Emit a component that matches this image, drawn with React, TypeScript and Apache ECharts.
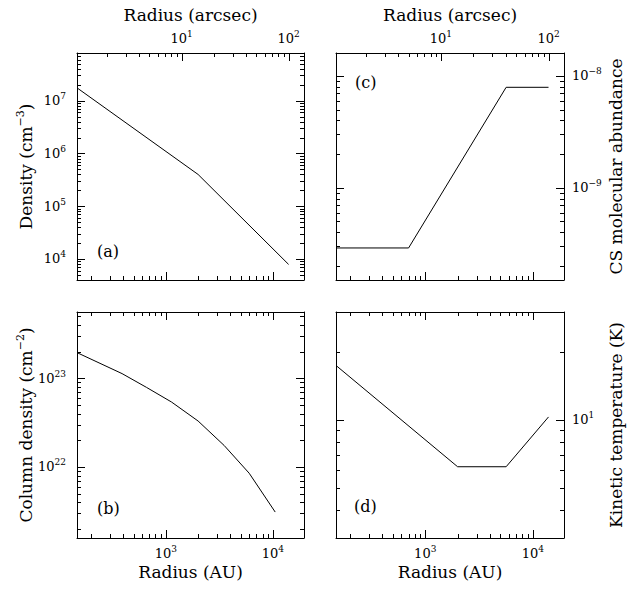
import React, { useEffect, useRef } from 'react';
import * as echarts from 'echarts';

// ---------- data ----------
const AU_MIN = 148;
const AU_MAX = 19500;
const DIST_PC = 140; // arcsec = AU / DIST_PC

// (a) density
const densityR = [148, 2000, 14000];
const densityN = [1.75e7, 4.0e5, 7.9e3];

// (b) column density
const columnR = [148, 390, 660, 1130, 2000, 3500, 6000, 10500];
const columnN = [1.95e23, 1.13e23, 7.9e22, 5.4e22, 3.3e22, 1.75e22, 8.5e21, 3.1e21];

// (c) CS molecular abundance
const csR = [148, 700, 5650, 14000];
const csX = [2.9e-10, 2.9e-10, 7.9e-9, 7.9e-9];

// (d) kinetic temperature
const tempR = [148, 2000, 5650, 14000];
const tempT = [17.4, 6.2, 6.2, 10.3];

const yRangeA = [4e3, 8e7];
const yRangeB = [1.58e21, 5.6e23];
const yRangeC = [1.5e-10, 1.6e-8];
const yRangeD = [3, 30];

const panelLabels = ['(a)', '(b)', '(c)', '(d)'];
const yTitles = [
  '{n|Density (cm}{s|\u22123}{n|)}',
  '{n|Column density (cm}{s|\u22122}{n|)}',
  '{n|CS molecular abundance}',
  '{n|Kinetic temperature (K)}',
];
const topTitle = 'Radius (arcsec)';
const bottomTitle = 'Radius (AU)';

// ---------- helpers ----------
const FONT = 'DejaVu Serif';
const BLACK = '#000';
const MAJOR_LEN = 8;
const MINOR_LEN = 4;

// log tick values inside (min, max): [value, isMajor]
function logTicks(min: number, max: number): [number, boolean][] {
  const out: [number, boolean][] = [];
  const e0 = Math.floor(Math.log10(min));
  const e1 = Math.ceil(Math.log10(max));
  for (let e = e0; e <= e1; e++) {
    for (let k = 1; k <= 9; k++) {
      const v = k * Math.pow(10, e);
      if (v > min * 1.0001 && v < max * 0.9999) out.push([v, k === 1]);
    }
  }
  return out;
}

function labelFmt(v: number): string {
  const l = Math.log10(v);
  const e = Math.round(l);
  if (Math.abs(l - e) > 1e-6) return '';
  const es = e < 0 ? '\u2212' + -e : String(e);
  return `{b|10}{e|${es}}`;
}

function labelRich() {
  return {
    b: { fontFamily: FONT, fontSize: 13, color: BLACK, lineHeight: 18 },
    e: { fontFamily: FONT, fontSize: 9, color: BLACK, lineHeight: 10, verticalAlign: 'top' },
  };
}

function titleRich() {
  return {
    n: { fontFamily: FONT, fontSize: 17, fill: BLACK, lineHeight: 22 },
    s: { fontFamily: FONT, fontSize: 11, fill: BLACK, lineHeight: 12, verticalAlign: 'top' },
  };
}

function majorAxis(opts: any) {
  return {
    type: 'log',
    logBase: 10,
    splitLine: { show: false },
    axisLine: { show: true, onZero: false, lineStyle: { color: BLACK, width: 1 } },
    axisTick: { show: false },
    axisLabel: { show: false },
    ...opts,
  };
}

function shownLabel(margin: number) {
  return { show: true, formatter: labelFmt, rich: labelRich(), margin };
}

export default function App() {
  const ref = useRef<HTMLDivElement>(null);

  useEffect(() => {
    if (!ref.current) return;
    const chart = echarts.init(ref.current, null, { renderer: 'svg' });

    const grids = [
      { left: 77, top: 53, width: 227, height: 227 },
      { left: 77, top: 312, width: 227, height: 226 },
      { left: 336, top: 53, width: 228, height: 227 },
      { left: 336, top: 312, width: 228, height: 226 },
    ];
    const yRanges = [yRangeA, yRangeB, yRangeC, yRangeD];
    const seriesData = [
      densityR.map((r, i) => [r, densityN[i]]),
      columnR.map((r, i) => [r, columnN[i]]),
      csR.map((r, i) => [r, csX[i]]),
      tempR.map((r, i) => [r, tempT[i]]),
    ];

    const xAxis: any[] = [];
    const yAxis: any[] = [];
    const series: any[] = [];

    grids.forEach((g, gi) => {
      const isTop = gi === 0 || gi === 2;
      const isLeft = gi === 0 || gi === 1;
      const xi = xAxis.length;
      const yi = yAxis.length;
      const [ymin, ymax] = yRanges[gi];

      xAxis.push(
        majorAxis({
          gridIndex: gi,
          position: 'bottom',
          min: AU_MIN,
          max: AU_MAX,
          axisLabel: isTop ? { show: false } : shownLabel(6),
        })
      );
      if (isTop) {
        xAxis.push(
          majorAxis({
            gridIndex: gi,
            position: 'top',
            min: AU_MIN / DIST_PC,
            max: AU_MAX / DIST_PC,
            axisLabel: shownLabel(6),
          })
        );
      } else {
        xAxis.push(majorAxis({ gridIndex: gi, position: 'top', min: AU_MIN, max: AU_MAX }));
      }

      const side = isLeft ? 'left' : 'right';
      const other = isLeft ? 'right' : 'left';
      yAxis.push(
        majorAxis({
          gridIndex: gi,
          position: side,
          min: ymin,
          max: ymax,
          axisLabel: shownLabel(isLeft ? 11 : 8),
        })
      );
      yAxis.push(majorAxis({ gridIndex: gi, position: other, min: ymin, max: ymax }));

      series.push({
        type: 'line',
        xAxisIndex: xi,
        yAxisIndex: yi,
        data: seriesData[gi],
        showSymbol: false,
        lineStyle: { color: BLACK, width: 1 },
        z: 2,
      });

      // tick marks on all four sides, positioned through the panel's own scales
      // item: [value (AU or y), sideCode (1 bottom, 2 top, 3 left, 4 right), length]
      const tickData: number[][] = [];
      logTicks(AU_MIN, AU_MAX).forEach(([v, m]) => tickData.push([v, 1, m ? MAJOR_LEN : MINOR_LEN]));
      if (isTop) {
        logTicks(AU_MIN / DIST_PC, AU_MAX / DIST_PC).forEach(([v, m]) =>
          tickData.push([v * DIST_PC, 2, m ? MAJOR_LEN : MINOR_LEN])
        );
      } else {
        logTicks(AU_MIN, AU_MAX).forEach(([v, m]) => tickData.push([v, 2, m ? MAJOR_LEN : MINOR_LEN]));
      }
      logTicks(ymin, ymax).forEach(([v, m]) => {
        tickData.push([v, 3, m ? MAJOR_LEN : MINOR_LEN]);
        tickData.push([v, 4, m ? MAJOR_LEN : MINOR_LEN]);
      });

      series.push({
        type: 'custom',
        coordinateSystem: 'cartesian2d',
        xAxisIndex: xi,
        yAxisIndex: yi,
        silent: true,
        clip: false,
        z: 3,
        data: tickData,
        renderItem: (params: any, api: any) => {
          const v = api.value(0);
          const s = api.value(1);
          const len = api.value(2);
          let x1 = 0, y1 = 0, x2 = 0, y2 = 0;
          if (s === 1 || s === 2) {
            const p = api.coord([v, s === 1 ? ymin : ymax]);
            const x = Math.round(p[0]) + 0.5;
            const y = Math.round(p[1]);
            x1 = x; x2 = x; y1 = y;
            y2 = s === 1 ? y - len : y + len;
          } else {
            const p = api.coord([s === 3 ? AU_MIN : AU_MAX, v]);
            const y = Math.round(p[1]) + 0.5;
            const x = Math.round(p[0]);
            y1 = y; y2 = y; x1 = x;
            x2 = s === 3 ? x + len : x - len;
          }
          return {
            type: 'line',
            shape: { x1, y1, x2, y2 },
            style: { stroke: BLACK, lineWidth: 1 },
          };
        },
      });
    });

    const labelPos = [
      [97, 243],
      [97, 500],
      [355, 74],
      [354, 498],
    ];

    const graphics: any[] = [];
    grids.forEach((g, gi) => {
      const isTop = gi === 0 || gi === 2;
      const isLeft = gi === 0 || gi === 1;
      const cx = g.left + g.width / 2;
      const cy = g.top + g.height / 2;
      graphics.push({
        type: 'text',
        x: isLeft ? 26 : 616,
        y: cy,
        rotation: Math.PI / 2,
        style: {
          text: yTitles[gi],
          rich: titleRich(),
          fontFamily: FONT,
          fontSize: 17,
          fill: BLACK,
          align: 'center',
          verticalAlign: 'middle',
        },
      });
      graphics.push({
        type: 'text',
        x: cx,
        y: isTop ? 15 : 572,
        style: {
          text: isTop ? topTitle : bottomTitle,
          fontFamily: FONT,
          fontSize: 17,
          fill: BLACK,
          align: 'center',
          verticalAlign: 'middle',
        },
      });
    });

    chart.setOption({
      animation: false,
      title: panelLabels.map((t, i) => ({
        text: t,
        left: labelPos[i][0],
        top: labelPos[i][1],
        padding: 0,
        textStyle: { fontFamily: FONT, fontSize: 16, fontWeight: 'normal', color: BLACK },
      })),
      grid: grids,
      xAxis,
      yAxis,
      series,
      graphic: graphics,
    });

    return () => chart.dispose();
  }, []);

  return <div ref={ref} style={{ position: 'absolute', left: 0, top: 0, width: 628, height: 589 }} />;
}
